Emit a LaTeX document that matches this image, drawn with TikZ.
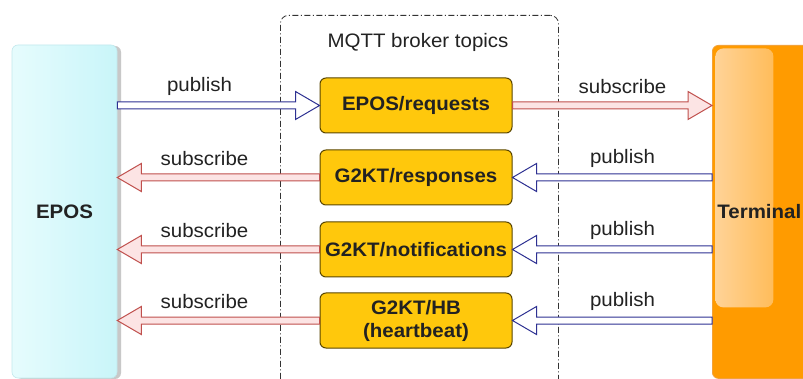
\documentclass[tikz,border=0pt]{standalone}
\usepackage{fontspec}
\setmainfont{Liberation Sans}[FakeStretch=1.05]
\usetikzlibrary{calc,shadows}
\definecolor{eposcol}{HTML}{C9F5F9}
\definecolor{eposhi}{HTML}{E6FCFD}
\definecolor{termcol}{HTML}{FF9B00}
\definecolor{termhi}{HTML}{FFD49A}
\definecolor{termedge}{HTML}{F2A23A}
\definecolor{topicfill}{HTML}{FFC80C}
\definecolor{topicdraw}{HTML}{5A4600}
\definecolor{pubdraw}{HTML}{2E3192}
\definecolor{subdraw}{HTML}{C0504D}
\definecolor{subfill}{HTML}{FCE4E4}
\definecolor{txt}{HTML}{222222}
\newcommand\flowarrow[3]{%
  \draw[#1] let \p1=(#2), \p2=(#3), \n1={sign(\x2-\x1)} in
    (\x1,{\y2+3.5pt}) -- ({\x2-\n1*24pt},{\y2+3.5pt}) -- ({\x2-\n1*24pt},{\y2+14pt})
    -- (\x2,\y2) -- ({\x2-\n1*24pt},{\y2-14pt}) -- ({\x2-\n1*24pt},{\y2-3.5pt})
    -- (\x1,{\y2-3.5pt}) -- cycle;}
\begin{document}
\begin{tikzpicture}[x=1pt,y=-1pt,
  every node/.style={font=\fontsize{19.5}{24}\selectfont, text=txt},
  eposbox/.style={rectangle, rounded corners=6pt, left color=eposhi, middle color=eposcol,
    right color=eposcol, draw=eposcol!90!gray,
    line width=0.6pt, minimum width=105, minimum height=333,
    drop shadow={shadow xshift=4pt, shadow yshift=-1pt, opacity=0.3, fill=black!70},
    font=\fontsize{19.5}{24}\selectfont\bfseries},
  termbox/.style={rectangle, rounded corners=6pt, fill=termcol, draw=termedge,
    line width=0.8pt, minimum height=333, text width=100pt, inner xsep=5pt, align=left,
    font=\fontsize{19.5}{24}\selectfont\bfseries,
    path picture={\fill[left color=termhi, right color=termcol!75!termhi, rounded corners=8pt]
      ($(path picture bounding box.north west)+(3,3)$) rectangle
      ($(path picture bounding box.north west)+(61,262)$);}},
  broker/.style={rectangle, rounded corners=8pt, draw=black!80, line width=0.8pt,
    dash pattern=on 6pt off 2.5pt on 1pt off 2.5pt},
  topic/.style={rectangle, rounded corners=6pt, fill=topicfill, draw=topicdraw,
    line width=1pt, minimum width=192, minimum height=55, align=center,
    font=\fontsize{19.5}{24}\selectfont\bfseries},
  pub/.style={draw=pubdraw, fill=white, line width=1pt, line join=miter},
  sub/.style={draw=subdraw, fill=subfill, line width=1pt, line join=miter},
  lbl/.style={inner sep=1pt}
]
\useasboundingbox (0,0) rectangle (803,379);
\clip (0,0) rectangle (803,379);
\fill[white] (0,0) rectangle (803,379);

\node[eposbox] (epos) at (64.5,211.5) {EPOS};
\node[termbox, anchor=north west] (term) at (712,45) {Terminal};
\node[broker, minimum width=278, minimum height=400, anchor=north west] (broker) at (280,15) {};
\node (title) at (418,42) {MQTT broker topics};

\node[topic] (t1) at (416,105.5) {EPOS/requests};
\node[topic] (t2) at (416,177.5) {G2KT/responses};
\node[topic] (t3) at (416,249.5) {G2KT/notifications};
\node[topic] (t4) at (416,320.5) {G2KT/HB\\[-1pt](heartbeat)};

\flowarrow{pub}{epos.east |- t1.west}{t1.west}
\flowarrow{sub}{t1.east}{term.west |- t1.east}
\flowarrow{sub}{t2.west}{epos.east |- t2.west}
\flowarrow{pub}{term.west |- t2.east}{t2.east}
\flowarrow{sub}{t3.west}{epos.east |- t3.west}
\flowarrow{pub}{term.west |- t3.east}{t3.east}
\flowarrow{sub}{t4.west}{epos.east |- t4.west}
\flowarrow{pub}{term.west |- t4.east}{t4.east}

\node[lbl] (l1) at ($(t1.west)+(-120,-19)$) {publish};
\node[lbl] (l2) at ($(t2.west)+(-115,-19)$) {subscribe};
\node[lbl] (l3) at ($(t3.west)+(-115,-19)$) {subscribe};
\node[lbl] (l4) at ($(t4.west)+(-115,-19)$) {subscribe};
\node[lbl] (r1) at ($(t1.east)+(110,-19)$) {subscribe};
\node[lbl] (r2) at ($(t2.east)+(110,-19)$) {publish};
\node[lbl] (r3) at ($(t3.east)+(110,-19)$) {publish};
\node[lbl] (r4) at ($(t4.east)+(110,-19)$) {publish};
\end{tikzpicture}
\end{document}
